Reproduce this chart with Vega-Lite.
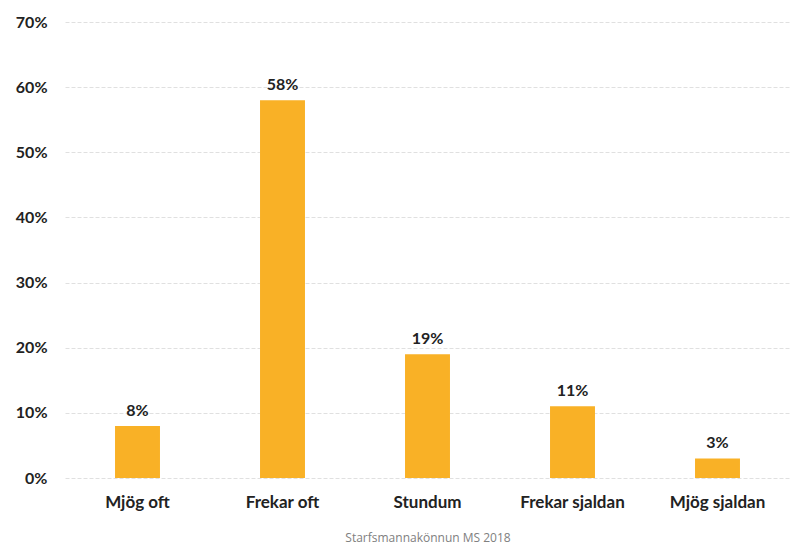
{
  "$schema": "https://vega.github.io/schema/vega-lite/v6.json",
  "autosize": "none",
  "width": 725,
  "height": 456,
  "padding": {"left": 65, "top": 22, "right": 5, "bottom": 75},
  "background": "white",
  "data": {"values": [
    {"kategori": "Mjög oft", "hlutfall": 0.08},
    {"kategori": "Frekar oft", "hlutfall": 0.58},
    {"kategori": "Stundum", "hlutfall": 0.19},
    {"kategori": "Frekar sjaldan", "hlutfall": 0.11},
    {"kategori": "Mjög sjaldan", "hlutfall": 0.03}
  ]},
  "config": {
    "view": {"stroke": null},
    "font": "Lato"
  },
  "encoding": {
    "x": {
      "field": "kategori", "type": "nominal", "sort": null,
      "scale": {"paddingInner": 0.69, "paddingOuter": 0.345},
      "axis": {
        "title": "Starfsmannakönnun MS 2018",
        "titleFont": "Open Sans", "titleFontSize": 12, "titleFontWeight": "normal", "titleColor": "#808080",
        "titlePadding": 22,
        "labelAngle": 0, "labelFont": "Lato", "labelFontSize": 17, "labelFontWeight": "bold", "labelColor": "#222222",
        "labelPadding": 16, "labelOverlap": false, "domain": false, "ticks": false
      }
    },
    "y": {
      "field": "hlutfall", "type": "quantitative",
      "scale": {"domain": [0, 0.7]},
      "axis": {
        "title": null, "format": ".0%", "values": [0, 0.1, 0.2, 0.3, 0.4, 0.5, 0.6, 0.7],
        "labelOverlap": false, "labelFont": "Lato",
        "labelFontSize": 16, "labelFontWeight": "bold", "labelColor": "#222222",
        "labelPadding": 18, "domain": false, "ticks": false,
        "gridColor": "#e0e0e0", "gridWidth": 1, "gridDash": [4, 2]
      }
    }
  },
  "layer": [
    {"mark": {"type": "bar", "color": "#F9B126"}},
    {
      "mark": {"type": "text", "dy": -15, "font": "Lato", "fontSize": 16, "fontWeight": "bold", "color": "#222222"},
      "encoding": {"text": {"field": "hlutfall", "type": "quantitative", "format": ".0%"}}
    }
  ]
}
